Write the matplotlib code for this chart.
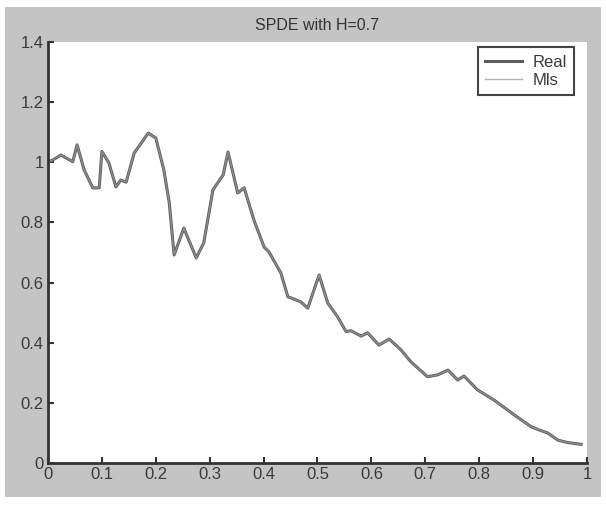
'''SPDE with H=0.7 - real vs Mls estimate.'''
import matplotlib
matplotlib.use('Agg')
import matplotlib.pyplot as plt
from matplotlib.patches import Rectangle

plt.rcParams['font.family'] = ['Liberation Sans', 'DejaVu Sans']

# sample positions and values
t = [0.0, 0.009, 0.024, 0.046, 0.054, 0.067, 0.083, 0.095, 0.100, 0.113,
     0.126, 0.135, 0.145, 0.160, 0.186, 0.200, 0.215, 0.225, 0.234, 0.252,
     0.275, 0.289, 0.306, 0.325, 0.334, 0.352, 0.364, 0.382, 0.401, 0.410,
     0.432, 0.445, 0.469, 0.482, 0.503, 0.519, 0.537, 0.553, 0.562, 0.581,
     0.593, 0.614, 0.633, 0.655, 0.673, 0.704, 0.723, 0.742, 0.760, 0.772,
     0.797, 0.827, 0.840, 0.865, 0.896, 0.911, 0.927, 0.946, 0.964, 0.989]
real = [1.000, 1.008, 1.024, 1.002, 1.058, 0.975, 0.915, 0.915, 1.036, 0.998,
        0.918, 0.941, 0.934, 1.031, 1.097, 1.081, 0.974, 0.865, 0.692, 0.781,
        0.682, 0.732, 0.908, 0.958, 1.034, 0.898, 0.915, 0.808, 0.718, 0.702,
        0.632, 0.553, 0.536, 0.515, 0.625, 0.532, 0.487, 0.437, 0.440, 0.422,
        0.433, 0.392, 0.412, 0.376, 0.337, 0.287, 0.293, 0.309, 0.276, 0.289,
        0.243, 0.210, 0.193, 0.160, 0.121, 0.110, 0.100, 0.076, 0.068, 0.062]
mls = list(real)  # estimate lies on top of the real curve

xticks = [0, 0.1, 0.2, 0.3, 0.4, 0.5, 0.6, 0.7, 0.8, 0.9, 1]
xlabels = ['0', '0.1', '0.2', '0.3', '0.4', '0.5', '0.6', '0.7', '0.8', '0.9', '1']
yticks = [0, 0.2, 0.4, 0.6, 0.8, 1, 1.2, 1.4]
ylabels = ['0', '0.2', '0.4', '0.6', '0.8', '1', '1.2', '1.4']

fig = plt.figure(figsize=(6.06, 5.05), dpi=100, facecolor='white')
# grey figure panel (scanned matlab window), kept behind the axes
fig.patches.append(Rectangle((0.008, 0.016), 0.983, 0.970, transform=fig.transFigure,
                             facecolor='#c4c4c4', edgecolor='none', zorder=-10))

ax = fig.add_axes([0.0792, 0.0832, 0.8894, 0.8336])
ax.set_facecolor('white')

ax.plot(t, real, color='#5e5e5e', lw=2.2, label='Real', solid_joinstyle='round')
ax.plot(t, mls, color='#8c8c8c', lw=1.0, label='Mls', solid_joinstyle='round')

ax.set_xlim(0, 1)
ax.set_ylim(0, 1.4)
ax.set_xticks(xticks, xlabels)
ax.set_yticks(yticks, ylabels)
ax.tick_params(direction='in', length=4, width=1.5, color='#333333',
               labelsize=12, labelcolor='#3a3a3a', pad=3)
for s in ['top', 'right']:
    ax.spines[s].set_visible(False)
for s in ['left', 'bottom']:
    ax.spines[s].set_color('#333333')
    ax.spines[s].set_linewidth(2)

ax.set_title('SPDE with H=0.7', fontsize=11.5, color='#333333', pad=9)

leg = ax.legend(loc='upper right', bbox_to_anchor=(0.976, 0.988), fancybox=False,
                framealpha=1, edgecolor='#444444', fontsize=12, handlelength=2.2,
                borderpad=0.45, labelspacing=0.2, handletextpad=0.6,
                borderaxespad=0)
leg.get_frame().set_linewidth(1.5)
leg.get_lines()[1].set_color('#b0b0b0')
for txt in leg.get_texts():
    txt.set_color('#3a3a3a')

fig.savefig('out.png', dpi=100)
